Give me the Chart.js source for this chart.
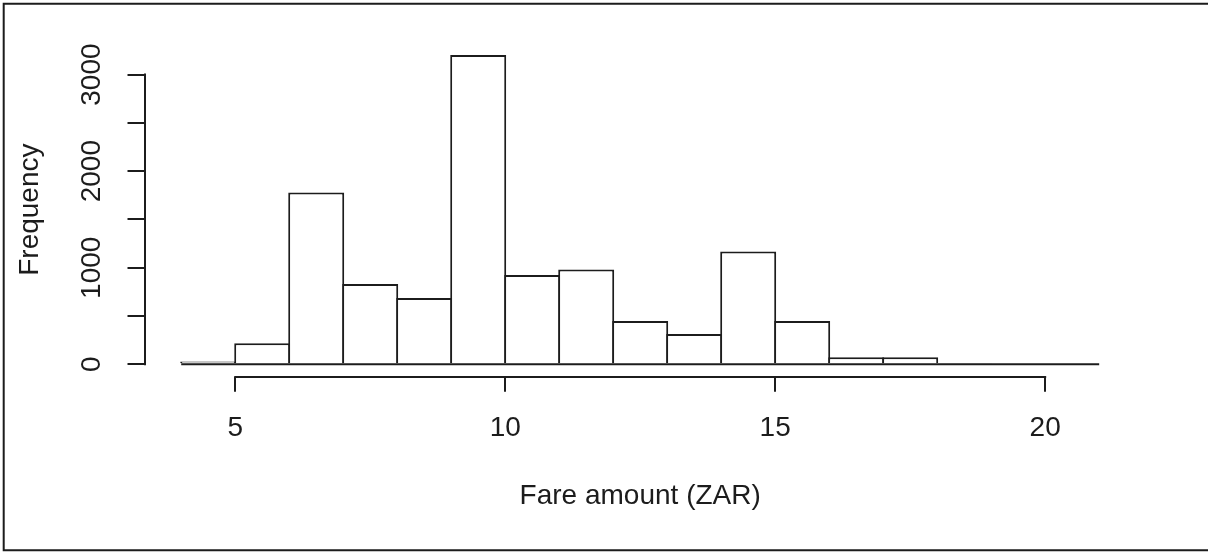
<!DOCTYPE html>
<html>
<head>
<meta charset="utf-8">
<script src="https://cdn.jsdelivr.net/npm/chart.js@4.4.1/dist/chart.umd.min.js"></script>
<style>
  html, body { margin: 0; padding: 0; background: #fff; }
  #wrap { width: 1208px; height: 552px; position: relative; }
  canvas { display: block; }
</style>
</head>
<body>
<div id="wrap"><canvas id="c" width="1208" height="552"></canvas></div>
<script>
// Fare histogram: bin edges (ZAR, width 1) and the count in each bin
const binEdges = [4, 5, 6, 7, 8, 9, 10, 11, 12, 13, 14, 15, 16, 17, 18, 19, 20, 21];
const binCounts = [28, 217, 1778, 831, 687, 3203, 925, 981, 448, 314, 1167, 448, 74, 72, 14, 0, 0];

// Axis ticks
const xTickValues = [5, 10, 15, 20];
const yTickValues = [0, 500, 1000, 1500, 2000, 2500, 3000];
const yTickLabels = ['0', '', '1000', '', '2000', '', '3000'];

const FONT = { family: "'Liberation Sans', Arial, sans-serif", size: 28 };
const INK = '#1c1c1c';

// Plot range padded by 4% on each side, like base R graphics
const xLo = binEdges[0], xHi = binEdges[binEdges.length - 1];
const xPad = (xHi - xLo) * 0.04;
const yPeak = Math.max(...binCounts);
const yPad = yPeak * 0.04;

const barData = binCounts.map((c, i) => ({ x: (binEdges[i] + binEdges[i + 1]) / 2, y: c }));
const baseData = [{ x: xLo, y: 0 }, { x: xHi, y: 0 }];

// Axis lines spanning first..last tick, plus the outer frame
const axisLines = {
  id: 'axisLines',
  afterDraw(chart) {
    const { ctx } = chart;
    const xs = chart.scales.x, ys = chart.scales.y;
    ctx.save();
    ctx.strokeStyle = INK;
    ctx.lineWidth = 2;
    ctx.beginPath();
    const ax = Math.round(xs.top) + 0;
    ctx.moveTo(xs.getPixelForValue(xTickValues[0]) - 1, ax);
    ctx.lineTo(xs.getPixelForValue(xTickValues[xTickValues.length - 1]) + 1, ax);
    const ay = Math.round(ys.right);
    ctx.moveTo(ay, ys.getPixelForValue(yTickValues[0]) + 1);
    ctx.lineTo(ay, ys.getPixelForValue(yTickValues[yTickValues.length - 1]) - 1);
    ctx.stroke();

    ctx.beginPath();
    ctx.moveTo(1208, 3.7);
    ctx.lineTo(3.7, 3.7);
    ctx.lineTo(3.7, 550.3);
    ctx.lineTo(1208, 550.3);
    ctx.stroke();
    ctx.restore();
  }
};

new Chart(document.getElementById('c'), {
  type: 'bar',
  data: {
    datasets: [
      {
        type: 'line',
        data: baseData,
        borderColor: INK,
        borderWidth: 2,
        pointRadius: 0,
        order: 0
      },
      {
        type: 'bar',
        data: barData,
        backgroundColor: '#ffffff',
        borderColor: INK,
        borderWidth: 2,
        borderSkipped: 'start',
        barPercentage: 56 / 54,
        categoryPercentage: 1,
        grouped: false,
        order: 1
      }
    ]
  },
  options: {
    responsive: false,
    devicePixelRatio: 1,
    animation: false,
    events: [],
    layout: { padding: { left: 0, top: 42.6, right: 72.1, bottom: 0 } },
    plugins: { legend: { display: false }, tooltip: { enabled: false } },
    scales: {
      x: {
        type: 'linear',
        min: xLo - xPad,
        max: xHi + xPad,
        offset: false,
        afterBuildTicks: s => { s.ticks = xTickValues.map(v => ({ value: v })); },
        afterFit: s => { s.height = 175.3; },
        border: { display: false },
        grid: { offset: false, drawOnChartArea: false, drawTicks: true, tickLength: 15, color: INK, lineWidth: 2 },
        ticks: {
          autoSkip: false, minRotation: 0, maxRotation: 0, padding: 19.5,
          font: FONT, color: INK,
          callback: v => String(v)
        },
        title: { display: true, text: 'Fare amount (ZAR)', font: FONT, color: INK, padding: { top: 0, bottom: 39 } }
      },
      y: {
        type: 'linear',
        min: -yPad,
        max: yPeak + yPad,
        afterBuildTicks: s => { s.ticks = yTickValues.map(v => ({ value: v })); },
        afterFit: s => { s.width = 144.5; },
        border: { display: false },
        grid: { drawOnChartArea: false, drawTicks: true, tickLength: 17, color: INK, lineWidth: 2 },
        ticks: {
          autoSkip: false, minRotation: 90, maxRotation: 90, crossAlign: 'center', padding: 4,
          font: FONT, color: INK,
          callback: v => yTickLabels[yTickValues.indexOf(v)]
        },
        title: { display: true, text: 'Frequency', font: FONT, color: INK, padding: { top: 13, bottom: 0 } }
      }
    }
  },
  plugins: [axisLines]
});
</script>
</body>
</html>
